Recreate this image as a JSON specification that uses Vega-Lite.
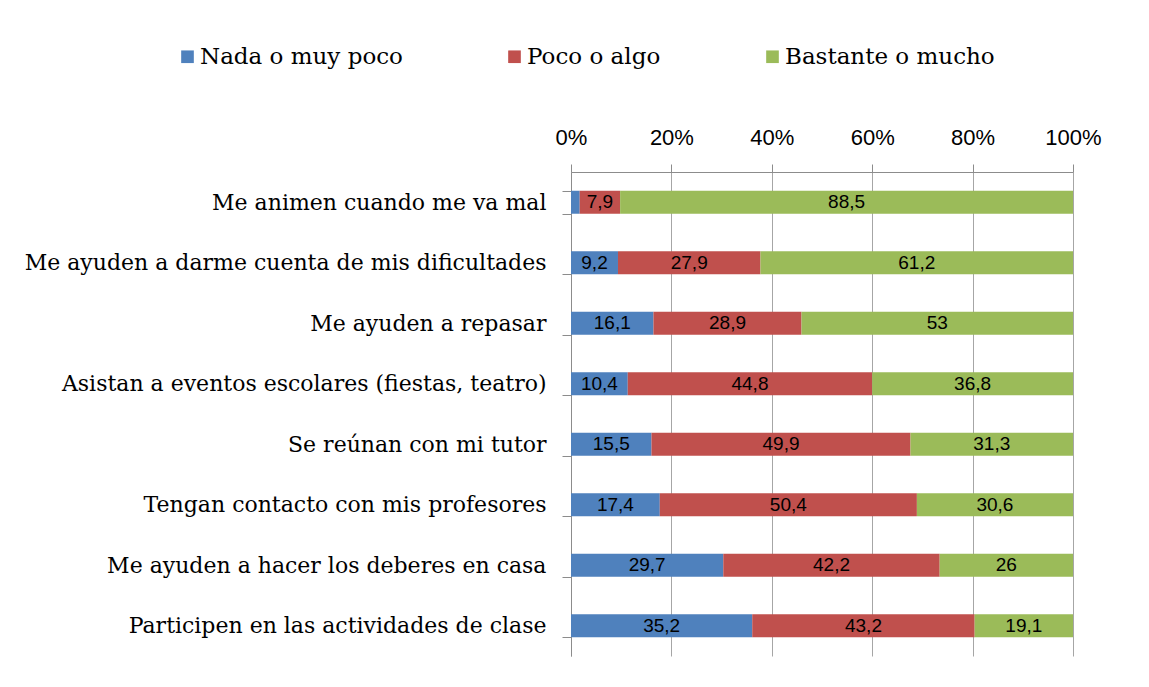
{
  "$schema": "https://vega.github.io/schema/vega-lite/v6.json",
  "autosize": {"type": "none"},
  "width": 502,
  "height": 484,
  "padding": {"left": 571, "top": 172, "right": 76, "bottom": 31},
  "background": "white",
  "data": {"values": [
    {"cat": "Me animen cuando me va mal", "serie": "Nada o muy poco", "orden": 1, "valor": 1.7},
    {"cat": "Me animen cuando me va mal", "serie": "Poco o algo", "orden": 2, "valor": 7.9},
    {"cat": "Me animen cuando me va mal", "serie": "Bastante o mucho", "orden": 3, "valor": 88.5},
    {"cat": "Me ayuden a darme cuenta de mis dificultades", "serie": "Nada o muy poco", "orden": 1, "valor": 9.2},
    {"cat": "Me ayuden a darme cuenta de mis dificultades", "serie": "Poco o algo", "orden": 2, "valor": 27.9},
    {"cat": "Me ayuden a darme cuenta de mis dificultades", "serie": "Bastante o mucho", "orden": 3, "valor": 61.2},
    {"cat": "Me ayuden a repasar", "serie": "Nada o muy poco", "orden": 1, "valor": 16.1},
    {"cat": "Me ayuden a repasar", "serie": "Poco o algo", "orden": 2, "valor": 28.9},
    {"cat": "Me ayuden a repasar", "serie": "Bastante o mucho", "orden": 3, "valor": 53},
    {"cat": "Asistan a eventos escolares (fiestas, teatro)", "serie": "Nada o muy poco", "orden": 1, "valor": 10.4},
    {"cat": "Asistan a eventos escolares (fiestas, teatro)", "serie": "Poco o algo", "orden": 2, "valor": 44.8},
    {"cat": "Asistan a eventos escolares (fiestas, teatro)", "serie": "Bastante o mucho", "orden": 3, "valor": 36.8},
    {"cat": "Se reúnan con mi tutor", "serie": "Nada o muy poco", "orden": 1, "valor": 15.5},
    {"cat": "Se reúnan con mi tutor", "serie": "Poco o algo", "orden": 2, "valor": 49.9},
    {"cat": "Se reúnan con mi tutor", "serie": "Bastante o mucho", "orden": 3, "valor": 31.3},
    {"cat": "Tengan contacto con mis profesores", "serie": "Nada o muy poco", "orden": 1, "valor": 17.4},
    {"cat": "Tengan contacto con mis profesores", "serie": "Poco o algo", "orden": 2, "valor": 50.4},
    {"cat": "Tengan contacto con mis profesores", "serie": "Bastante o mucho", "orden": 3, "valor": 30.6},
    {"cat": "Me ayuden a hacer los deberes en casa", "serie": "Nada o muy poco", "orden": 1, "valor": 29.7},
    {"cat": "Me ayuden a hacer los deberes en casa", "serie": "Poco o algo", "orden": 2, "valor": 42.2},
    {"cat": "Me ayuden a hacer los deberes en casa", "serie": "Bastante o mucho", "orden": 3, "valor": 26},
    {"cat": "Participen en las actividades de clase", "serie": "Nada o muy poco", "orden": 1, "valor": 35.2},
    {"cat": "Participen en las actividades de clase", "serie": "Poco o algo", "orden": 2, "valor": 43.2},
    {"cat": "Participen en las actividades de clase", "serie": "Bastante o mucho", "orden": 3, "valor": 19.1}
  ]},
  "transform": [
    {"stack": "valor", "groupby": ["cat"], "sort": [{"field": "orden", "order": "ascending"}], "offset": "normalize", "as": ["x0", "x1"]},
    {"calculate": "(datum.x0 + datum.x1) / 2", "as": "xm"}
  ],
  "encoding": {
    "y": {
      "field": "cat", "type": "nominal", "sort": null, "title": null,
      "scale": {"paddingInner": 0.62, "paddingOuter": 0.31},
      "axis": {
        "orient": "left", "tickBand": "extent", "tickSize": 9, "labelPadding": 16,
        "domainColor": "#8c8c8c", "tickColor": "#8c8c8c",
        "labelFont": "DejaVu Serif", "labelFontSize": 22, "labelColor": "#000000",
        "labelLimit": 600, "grid": false
      }
    }
  },
  "layer": [
    {
      "mark": {"type": "bar"},
      "encoding": {
        "x": {
          "field": "x0", "type": "quantitative", "title": null,
          "scale": {"domain": [0, 1], "nice": false},
          "axis": {
            "orient": "top", "format": ".0%", "values": [0, 0.2, 0.4, 0.6, 0.8, 1],
            "tickSize": 8, "labelPadding": 15, "labelFlush": false, "grid": true, "gridColor": "#a6a6a6",
            "domainColor": "#8c8c8c", "tickColor": "#8c8c8c",
            "labelFont": "Liberation Sans", "labelFontSize": 22, "labelColor": "#000000"
          }
        },
        "x2": {"field": "x1"},
        "color": {
          "field": "serie", "type": "nominal",
          "scale": {"domain": ["Nada o muy poco", "Poco o algo", "Bastante o mucho"], "range": ["#4F81BD", "#C0504D", "#9BBB59"]},
          "legend": {
            "title": null, "orient": "none", "direction": "horizontal",
            "legendX": -395, "legendY": -127,
            "symbolType": "square", "symbolSize": 160, "symbolStrokeWidth": 0,
            "labelFont": "DejaVu Serif", "labelFontSize": 23, "labelColor": "#000000",
            "labelOffset": 1, "columnPadding": 100, "labelLimit": 400
          }
        }
      }
    },
    {
      "transform": [{"filter": "datum.valor > 3"}],
      "mark": {"type": "text", "font": "Liberation Sans", "fontSize": 19, "color": "#000000", "baseline": "middle", "align": "center"},
      "encoding": {
        "x": {"field": "xm", "type": "quantitative"},
        "text": {"field": "valor", "type": "quantitative", "format": ".1~f"}
      }
    }
  ],
  "config": {
    "locale": {"number": {"decimal": ",", "thousands": ".", "grouping": [3], "currency": ["", " €"]}},
    "view": {"stroke": null}
  }
}
